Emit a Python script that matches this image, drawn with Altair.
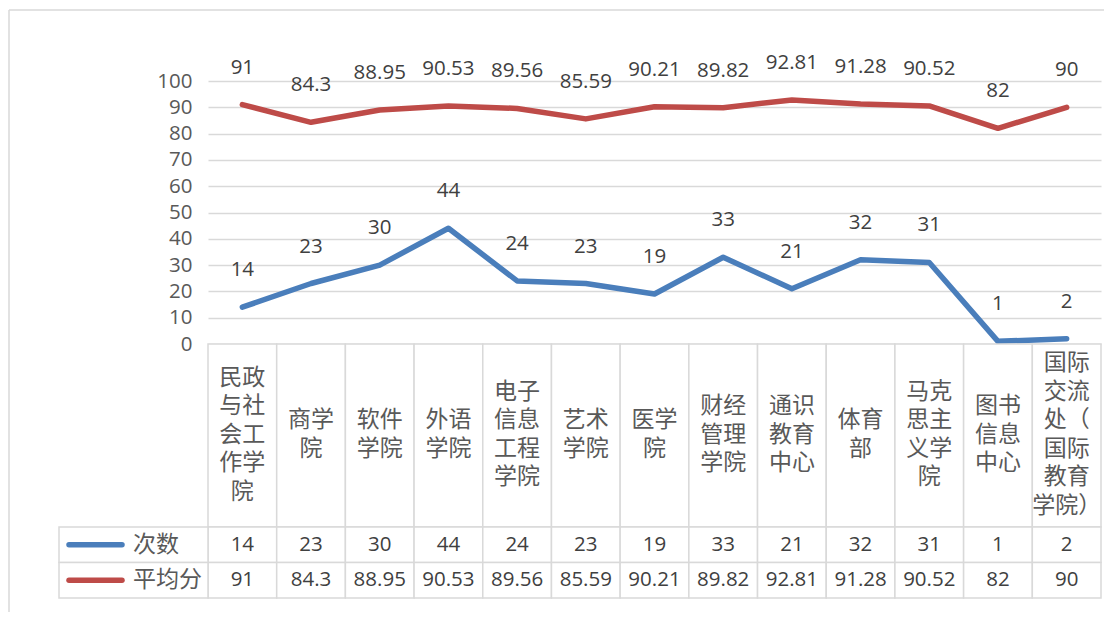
import altair as alt
import pandas as pd

categories = ["民政与社会工作学院", "商学院", "软件学院", "外语学院", "电子信息工程学院",
              "艺术学院", "医学院", "财经管理学院", "通识教育中心", "体育部",
              "马克思主义学院", "图书信息中心", "国际交流处（国际教育学院）"]
header_labels = ["民政\n与社\n会工\n作学\n院", "商学\n院", "软件\n学院", "外语\n学院",
                 "电子\n信息\n工程\n学院", "艺术\n学院", "医学\n院", "财经\n管理\n学院",
                 "通识\n教育\n中心", "体育\n部", "马克\n思主\n义学\n院", "图书\n信息\n中心",
                 "国际\n交流\n处（\n国际\n教育\n学院）"]
series_names = ["次数", "平均分"]
counts = [14, 23, 30, 44, 24, 23, 19, 33, 21, 32, 31, 1, 2]
scores = [91, 84.3, 88.95, 90.53, 89.56, 85.59, 90.21, 89.82, 92.81, 91.28, 90.52, 82, 90]
y_ticks = [0, 10, 20, 30, 40, 50, 60, 70, 80, 90, 100]
colors = ["#4A7EBB", "#BE4B48"]

rows = []
for i, c in enumerate(categories):
    for s, vals in zip(series_names, [counts, scores]):
        rows.append({"category": c, "series": s, "value": vals[i], "label": str(vals[i])})
df = pd.DataFrame(rows)
hdr = pd.DataFrame({"category": categories, "header": header_labels})
ser = pd.DataFrame({"series": series_names})
one = pd.DataFrame({"k": [0]})

GRID = "#d9d9d9"
NUMFONT = "Open Sans"
CJK = "Noto Sans CJK SC"
HEADER_H = 183
LINE_H = 28.5

X = alt.X("category:N", scale=alt.Scale(domain=categories, paddingInner=0, paddingOuter=0), axis=None)
COLOR = alt.Color("series:N", scale=alt.Scale(domain=series_names, range=colors), legend=None)

# ---- Panel A: lines ----
yA = alt.Y("value:Q", scale=alt.Scale(domain=[0, 100], nice=False),
           axis=alt.Axis(values=y_ticks, tickCount=len(y_ticks), grid=True, gridColor=GRID,
                         gridWidth=1.3, domain=False, ticks=False, labelFontSize=20.5,
                         labelColor="#595959", labelPadding=16, labelFont=NUMFONT,
                         labelOverlap=False, title=None))
lines = alt.Chart(df).mark_line(strokeWidth=5.5, strokeCap="round", strokeJoin="round").encode(
    x=X, y=yA, color=COLOR)
dlabels = alt.Chart(df).mark_text(dy=-37, fontSize=20.5, font=NUMFONT, color="#404040").encode(
    x=X, y=alt.Y("value:Q"), text="label:N")
frame_top = alt.Chart(one).mark_rule(color=GRID, strokeWidth=1.5).encode(
    x=alt.value(-199), x2=alt.value(896), y=alt.value(-71))
frame_left = alt.Chart(one).mark_rule(color=GRID, strokeWidth=1.5).encode(
    x=alt.value(-199), y=alt.value(-71), y2=alt.value(531))
panelA = alt.layer(frame_top, frame_left, lines, dlabels).properties(width=893, height=263)

# ---- Panel B: header cells ----
hcells = alt.Chart(hdr).mark_rect(fill="white", stroke=GRID, strokeWidth=1.5).encode(x=X)
htext = alt.Chart(hdr).transform_calculate(
    nlines="length(split(datum.header, '\\n'))"
).transform_calculate(
    ypos=f"{HEADER_H / 2 - 1} - (datum.nlines - 1) * {LINE_H / 2}"
).mark_text(fontSize=23, font=CJK, color="#595959", lineBreak="\n",
            lineHeight=LINE_H, baseline="middle").encode(
    x=X, y=alt.Y("ypos:Q", scale=None), text="header:N")
panelB = alt.layer(hcells, htext).properties(width=893, height=HEADER_H)

# ---- Panel C: data table ----
YR = alt.Y("series:N", scale=alt.Scale(domain=series_names, paddingInner=0, paddingOuter=0), axis=None)
cells = alt.Chart(df).mark_rect(fill="white", stroke=GRID, strokeWidth=1.5).encode(x=X, y=YR)
vals = alt.Chart(df).mark_text(fontSize=20.5, font=NUMFONT, color="#404040").encode(
    x=X, y=YR, text="label:N")
left_cells = alt.Chart(ser).mark_rect(fill="white", stroke=GRID, strokeWidth=1.5).encode(
    x=alt.value(-149), x2=alt.value(0), y=YR)
samples = alt.Chart(ser).mark_rule(strokeWidth=5.5, strokeCap="round").encode(
    x=alt.value(-139), x2=alt.value(-86),
    y=alt.Y("series:N", bandPosition=0.5,
            scale=alt.Scale(domain=series_names, paddingInner=0, paddingOuter=0), axis=None),
    color=COLOR)
rlabels = alt.Chart(ser).mark_text(align="left", fontSize=23, font=CJK, color="#595959").encode(
    x=alt.value(-75), y=YR, text="series:N")
panelC = alt.layer(cells, vals, left_cells, samples, rlabels).properties(width=893, height=71)

chart = alt.vconcat(panelA, panelB, panelC, spacing=0, bounds="flush").configure_view(
    stroke=None).properties(padding={"left": 0, "top": 1, "right": 0, "bottom": 0},
                             background="white")

chart.save("out.html", embed_options={"renderer": "svg", "actions": False})
